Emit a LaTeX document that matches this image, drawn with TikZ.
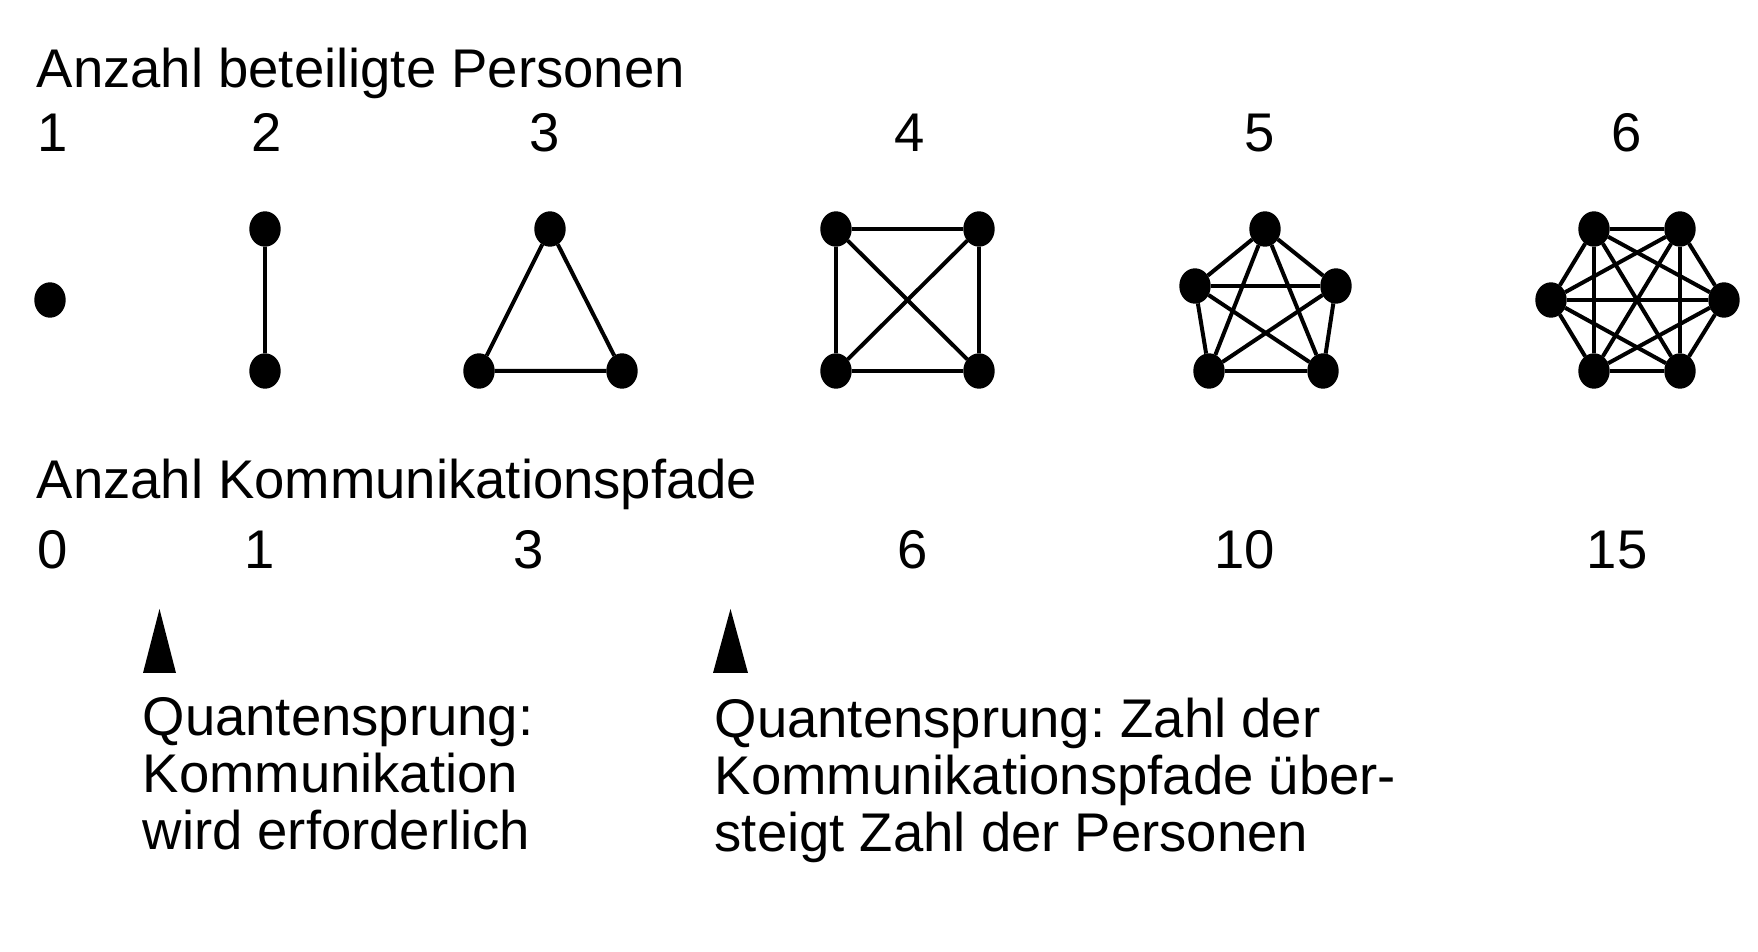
\documentclass[tikz,border=0pt]{standalone}
\usepackage{fontspec}
\setmainfont{Liberation Sans}
\usetikzlibrary{shapes.geometric}
\frenchspacing

\begin{document}
\begin{tikzpicture}[x=0.1mm, y=-0.1mm,
  person/.style={draw, ellipse, fill=black, minimum width=3mm, minimum height=3.4mm, inner sep=0pt},
  link/.style={line width=0.4mm},
  heading/.style={anchor=base west, inner sep=0pt, font=\fontsize{15.5}{16}\selectfont},
  count/.style={anchor=base, inner sep=0pt, font=\fontsize{15.5}{16}\selectfont},
  note/.style={anchor=north west, inner sep=0pt, align=left, font=\fontsize{15.5}{16.2}\selectfont}]
\useasboundingbox (0,0) rectangle (1758,952);

% Headings and numbers
\node[heading] (persons) at (36,88) {Anzahl beteiligte Personen};
\node[count] (n1) at (53,152) {1};
\node[count] (n2) at (267,152) {2};
\node[count] (n3) at (545,152) {3};
\node[count] (n4) at (910,152) {4};
\node[count] (n5) at (1260,152) {5};
\node[count] (n6) at (1627,152) {6};

\node[heading] (paths) at (36,498) {Anzahl Kommunikationspfade};
\node[count] (k1) at (53,568) {0};
\node[count] (k2) at (260,568) {1};
\node[count] (k3) at (529,568) {3};
\node[count] (k4) at (913,568) {6};
\node[count] (k5) at (1245,568) {10};
\node[count] (k6) at (1617,568) {15};

% Define nodes
\node[person] (a1) at (50,300) {};

\node[person] (b1) at (265,229) {};
\node[person] (b2) at (265,371) {};

\node[person] (c1) at (550,229) {};
\node[person] (c2) at (622,371) {};
\node[person] (c3) at (479,371) {};

\node[person] (d1) at (836,229) {};
\node[person] (d2) at (979,229) {};
\node[person] (d3) at (979,371) {};
\node[person] (d4) at (836,371) {};

\node[person] (e1) at (1265,229) {};
\node[person] (e2) at (1336,286) {};
\node[person] (e3) at (1323,371) {};
\node[person] (e4) at (1209,371) {};
\node[person] (e5) at (1195,286) {};

\node[person] (f1) at (1594,229) {};
\node[person] (f2) at (1680,229) {};
\node[person] (f3) at (1724,300) {};
\node[person] (f4) at (1680,371) {};
\node[person] (f5) at (1594,371) {};
\node[person] (f6) at (1551,300) {};

% Draw edges
\draw[link] (b1) -- (b2);
\draw[link] (c1) -- (c2) -- (c3) -- (c1);
\foreach \i in {1,...,4}{\foreach \j in {\i,...,4}{\ifnum\i<\j \draw[link] (d\i) -- (d\j);\fi}}
\foreach \i in {1,...,5}{\foreach \j in {\i,...,5}{\ifnum\i<\j \draw[link] (e\i) -- (e\j);\fi}}
\foreach \i in {1,...,6}{\foreach \j in {\i,...,6}{\ifnum\i<\j \draw[link] (f\i) -- (f\j);\fi}}

% Markers and notes
\fill (143,673) -- (159.5,609) -- (176,673) -- cycle;
\fill (713,673) -- (730.5,609) -- (748,673) -- cycle;
\node[note] (jump1) at (142,697) {Quantensprung:\\Kommunikation\\wird erforderlich};
\node[note] (jump2) at (714,697) {Quantensprung: Zahl der\\Kommunikationspfade über-\\steigt Zahl der Personen};
\end{tikzpicture}
\end{document}
